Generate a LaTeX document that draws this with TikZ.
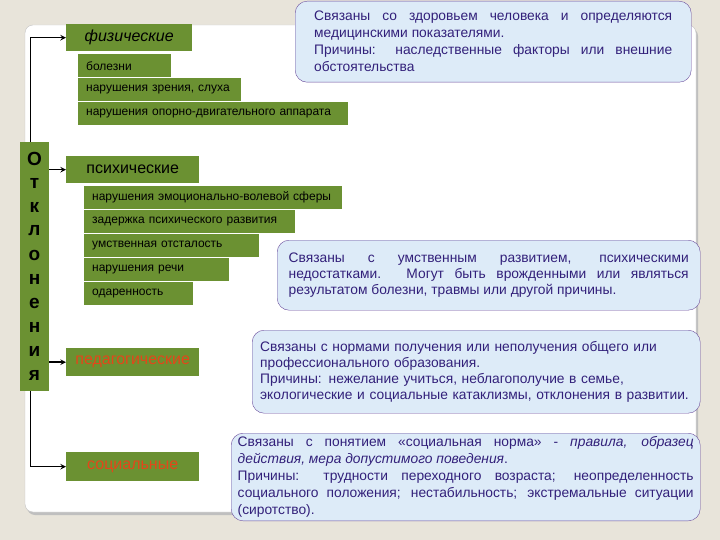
\documentclass[tikz,border=0pt]{standalone}
\usepackage{fontspec}
\setmainfont{Liberation Sans}

\definecolor{paper}{HTML}{E8E4DA}
\definecolor{frame}{HTML}{C4C4C4}
\definecolor{leaf}{HTML}{6B9132}
\definecolor{ink}{HTML}{32207A}
\definecolor{edge}{HTML}{6A4C9C}
\definecolor{cloud}{HTML}{DDEBF8}
\definecolor{flame}{HTML}{E4461A}

\tikzset{
  item/.style={fill=leaf, anchor=north west, minimum height=23pt, inner xsep=8pt,
    text width=#1, align=left, font=\fontsize{12}{14}\selectfont},
  head/.style={fill=leaf, anchor=north west, minimum width=#1, minimum height=27pt,
    font=\fontsize{16}{18}\selectfont},
  note/.style={draw=edge, fill=cloud, rounded corners=12pt, text=ink, anchor=north west,
    font=\fontsize{13.8}{17}\selectfont},
  link/.style={->, line width=1.5pt}
}

\begin{document}
\begin{tikzpicture}[x=1pt, y=-1pt, >=stealth]
	\useasboundingbox[fill=paper] (0,0) rectangle (720,540);
	% panel
	\fill[black!25, rounded corners=8pt] (27,28) rectangle (698,515);
	\draw[frame, fill=white, rounded corners=8pt] (25,25) rectangle (696,512);
	% left column
	\node[fill=leaf, anchor=north west, minimum width=29pt, minimum height=249pt, inner sep=0pt] (otk) at (20,142) {};
	\foreach \c [count=\i] in {О,т,к,л,о,н,е,н,и,я}
	\node[font=\fontsize{19}{19}\bfseries, inner sep=0pt] (otk\i) at (34.5,135+24*\i) {\c};
	\coordinate (trunk) at (30.5,0);
	% groups
	\node[head=126pt, font=\fontsize{16}{18}\itshape] (fiz) at (66,24) {физические};
	\node[item=77pt] (bol) at (78,54) {болезни};
	\node[item=147pt] (zren) at (78,78) {нарушения зрения, слуха};
	\node[item=254pt] (opor) at (78,102) {нарушения опорно-двигательного аппарата};
	\node[head=133pt] (psy) at (66,156) {психические};
	\node[item=242pt] (emo) at (84,186) {нарушения эмоционально-волевой сферы};
	\node[item=195pt] (zad) at (84,210) {задержка психического развития};
	\node[item=159pt] (umst) at (84,234) {умственная отсталость};
	\node[item=129pt] (rech) at (84,258) {нарушения речи};
	\node[item=93pt] (odar) at (84,282) {одаренность};
	\node[head=133pt, minimum height=28pt, text=flame] (ped) at (66,348) {педагогические};
	\node[head=133pt, minimum height=29pt, text=flame] (soc) at (66,452) {социальные};
	\draw[link] (otk.north -| trunk) |- (fiz.west);
	\draw[link] (otk.south -| trunk) |- (soc.west);
	\draw[link] (otk.east |- psy.west) -- (psy.west);
	\draw[link] (otk.east |- ped.west) -- (ped.west);
	% notes
	\node[note, minimum width=396pt, minimum height=81pt, text width=358pt, align=justify] (n1) at (295,1)
	{Связаны со здоровьем человека и определяются\linebreak медицинскими показателями.\par
	Причины: наследственные факторы или внешние\linebreak обстоятельства};
	\node[note, minimum width=423pt, minimum height=70pt, text width=400pt, align=justify,
	font=\fontsize{13.8}{16}\selectfont] (n2) at (277,240)
	{Связаны с умственным развитием, психическими\linebreak недостатками. Могут быть врожденными или являться\linebreak результатом болезни, травмы или другой причины.};
	\node[note, minimum width=448pt, minimum height=83pt, text width=432pt, align=left,
	font=\fontsize{13.8}{16}\selectfont] (n3) at (252,330)
	{Связаны с нормами получения или неполучения общего или\\ профессионального образования.\\
	Причины: нежелание учиться, неблагополучие в семье,\\ экологические и социальные катаклизмы, отклонения в развитии.};
	\node[note, minimum width=469pt, minimum height=87pt, text width=456pt, align=justify,
	font=\fontsize{13.8}{17}\selectfont] (n4) at (231,433)
	{Связаны с понятием «социальная норма» - \textit{правила, образец}\linebreak \textit{действия, мера допустимого поведения}.\par
	Причины: трудности переходного возраста; неопределенность\linebreak социального положения; нестабильность; экстремальные ситуации\linebreak (сиротство).};
\end{tikzpicture}
\end{document}
